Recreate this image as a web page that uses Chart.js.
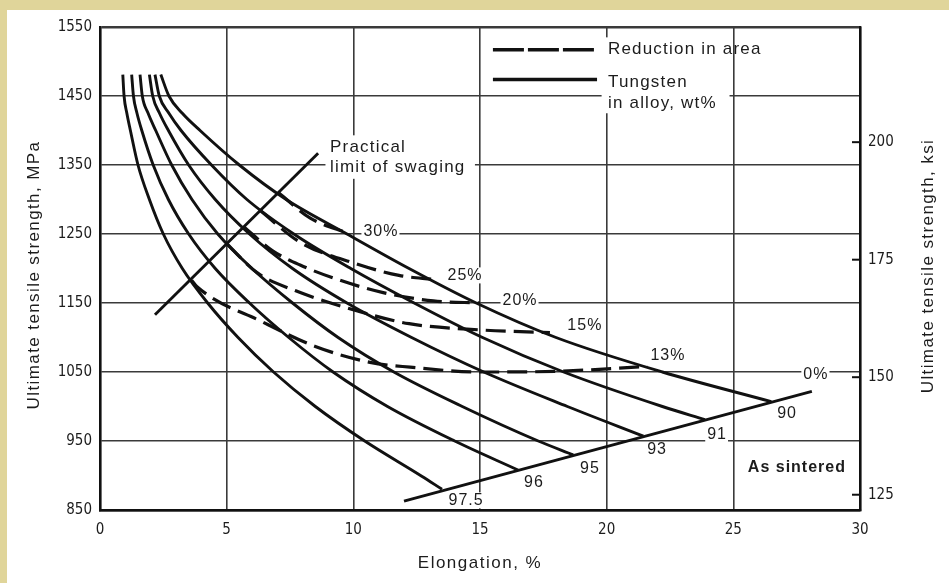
<!DOCTYPE html>
<html>
<head>
<meta charset="utf-8">
<script src="https://cdn.jsdelivr.net/npm/chart.js@4.4.1/dist/chart.umd.min.js"></script>
<style>
    html, body { margin: 0; padding: 0; background: #e0d59a; }
    body { width: 949px; height: 583px; overflow: hidden; position: relative; }
    #painel { position: absolute; left: 7px; top: 10px; width: 942px; height: 573px; background: #fff; }
</style>
</head>
<body>
<div id="painel"><canvas id="GraficoTungstenio" width="942" height="573" style="width:942px; height:573px;"></canvas></div>
<script>
// valores: [alongamento %, resistencia MPa]
var liga975 = [[0.9, 1481], [0.95, 1450], [1.06, 1425], [1.2, 1400], [1.5, 1350], [1.95, 1300], [2.5, 1250], [3.25, 1200], [4.25, 1150], [5.45, 1100], [6.85, 1050], [8.5, 1000], [10.45, 950], [12.7, 899], [13.5, 880]];
var liga96 = [[1.25, 1481], [1.32, 1450], [1.46, 1425], [1.65, 1400], [2.1, 1350], [2.7, 1300], [3.5, 1250], [4.55, 1200], [5.9, 1150], [7.45, 1100], [9.2, 1050], [11.35, 1000], [14.0, 950], [16.5, 908]];
var liga95 = [[1.58, 1481], [1.67, 1450], [1.9, 1425], [2.2, 1400], [2.83, 1350], [3.63, 1300], [4.65, 1250], [6.0, 1200], [7.6, 1150], [9.4, 1100], [11.6, 1050], [14.3, 1000], [17.3, 950], [18.68, 930]];
var liga93 = [[1.95, 1481], [2.08, 1450], [2.35, 1425], [2.7, 1400], [3.5, 1350], [4.55, 1300], [5.9, 1250], [7.6, 1200], [9.75, 1150], [12.3, 1100], [15.15, 1050], [18.45, 1000], [21.45, 957]];
var liga91 = [[2.17, 1481], [2.34, 1450], [2.72, 1425], [3.2, 1400], [4.4, 1350], [5.8, 1300], [7.65, 1250], [9.9, 1200], [12.4, 1150], [15.1, 1100], [18.3, 1050], [22.2, 1000], [23.88, 981]];
var liga90 = [[2.4, 1481], [2.72, 1450], [3.25, 1425], [3.95, 1400], [5.5, 1350], [7.35, 1300], [9.75, 1250], [12.2, 1200], [14.85, 1150], [18.0, 1100], [22.2, 1050], [26.5, 1007]];

// reducao de area (tracejado)
var reducao30 = [[7.04, 1310], [8.3, 1273], [9.87, 1250]];
var reducao25 = [[6.32, 1284], [7.9, 1238], [10.1, 1207], [11.8, 1190], [13.2, 1184]];
var reducao20 = [[5.66, 1261], [6.8, 1226], [7.9, 1205], [9.47, 1183], [11.18, 1165], [13.16, 1153], [15, 1150]];
var reducao15 = [[5, 1236], [6.2, 1194], [7.7, 1168], [10.4, 1136], [12.2, 1120], [15, 1111], [17.76, 1107]];
var reducao13 = [[3.62, 1183], [3.82, 1174], [6.45, 1122], [8.5, 1087], [10.66, 1064], [12.24, 1057], [15, 1050], [18, 1051], [21.6, 1058]];

var limiteForjamento = [[2.17, 1133], [8.61, 1367]];
var comoSinterizado = [[12, 863], [28.1, 1022]];

var rotulosReducao = ['30%', '25%', '20%', '15%', '13%', '0%'];
var posRotulosReducao = [[11.09, 1253], [14.41, 1190], [16.58, 1154], [19.14, 1117], [22.42, 1074], [28.26, 1046]];
var rotulosLiga = ['90', '91', '93', '95', '96', '97.5'];
var posRotulosLiga = [[27.12, 989], [24.36, 960], [21.99, 937], [19.34, 910], [17.13, 890], [14.45, 864]];
var ticksKsi = [125, 150, 175, 200];

var corTexto = '#1c1c1c';
var fonteTexto = "'Liberation Sans', Arial, sans-serif";
var fonteTicks = "'Liberation Sans Narrow', 'Arial Narrow', 'DejaVu Sans Condensed', sans-serif";

function PegarPontos(lista) {
    return lista.map(function (p) { return { x: p[0], y: p[1] }; });
}

function Curva(lista, tracejado) {
    return {
        data: PegarPontos(lista),
        showLine: true,
        borderColor: '#111',
        borderWidth: tracejado ? 3.2 : 2.9,
        borderDash: tracejado ? [20, 8] : [],
        cubicInterpolationMode: 'monotone',
        pointRadius: 0
    };
}

function Reta(lista) {
    return { data: PegarPontos(lista), showLine: true, borderColor: '#111', borderWidth: 2.9, pointRadius: 0 };
}

function EscreverTexto(ctx, texto, px, py, fonte, alinhamento, fundo, espaco) {
    ctx.font = fonte;
    ctx.letterSpacing = (espaco || 1) + 'px';
    ctx.textAlign = alinhamento;
    ctx.textBaseline = 'middle';
    var larg = ctx.measureText(texto).width;
    if (fundo) {
        var x0 = alinhamento === 'left' ? px : px - larg / 2;
        ctx.fillStyle = '#fff';
        ctx.fillRect(x0 - 2, py - 8, larg + 3, 16);
    }
    ctx.fillStyle = corTexto;
    ctx.fillText(texto, px, py);
}

var pluginTextos = {
    id: 'textos',
    afterDraw: function (chart) {
        var ctx = chart.ctx;
        var sx = chart.scales.x, sy = chart.scales.y, sy2 = chart.scales.y2;
        var area = chart.chartArea;
        function X(v) { return sx.getPixelForValue(v); }
        function Y(v) { return sy.getPixelForValue(v); }
        ctx.save();

        // marcas do eixo ksi para dentro
        ctx.strokeStyle = '#111';
        ctx.lineWidth = 2;
        ticksKsi.forEach(function (v) {
            var py = sy2.getPixelForValue(v);
            ctx.beginPath();
            ctx.moveTo(area.right - 8, py);
            ctx.lineTo(area.right, py);
            ctx.stroke();
        });

        // legenda
        ctx.fillStyle = '#fff';
        ctx.fillRect(X(19.8), Y(1535), X(24.85) - X(19.8), Y(1425) - Y(1535));
        ctx.lineWidth = 3.4;
        ctx.setLineDash([31, 4]);
        ctx.beginPath(); ctx.moveTo(X(15.51), Y(1517)); ctx.lineTo(X(19.62), Y(1517)); ctx.stroke();
        ctx.setLineDash([]);
        ctx.beginPath(); ctx.moveTo(X(15.51), Y(1474)); ctx.lineTo(X(19.62), Y(1474)); ctx.stroke();
        EscreverTexto(ctx, 'Reduction in area', X(20.05), Y(1517), '17px ' + fonteTexto, 'left', false, 1.2);
        EscreverTexto(ctx, 'Tungsten', X(20.05), Y(1470), '17px ' + fonteTexto, 'left', false, 1.2);
        EscreverTexto(ctx, 'in alloy, wt%', X(20.05), Y(1439), '17px ' + fonteTexto, 'left', false, 1.2);

        // limite pratico
        ctx.fillStyle = '#fff';
        ctx.fillRect(X(8.9), Y(1393), X(14.8) - X(8.9), Y(1330) - Y(1393));
        EscreverTexto(ctx, 'Practical', X(9.08), Y(1376), '17px ' + fonteTexto, 'left', false, 1.2);
        EscreverTexto(ctx, 'limit of swaging', X(9.08), Y(1346), '17px ' + fonteTexto, 'left', false, 1.2);

        rotulosReducao.forEach(function (t, i) {
            EscreverTexto(ctx, t, X(posRotulosReducao[i][0]), Y(posRotulosReducao[i][1]), '16px ' + fonteTexto, 'center', true, 1);
        });
        rotulosLiga.forEach(function (t, i) {
            EscreverTexto(ctx, t, X(posRotulosLiga[i][0]), Y(posRotulosLiga[i][1]), '16px ' + fonteTexto, 'center', true, 1);
        });
        EscreverTexto(ctx, 'As sintered', X(27.51), Y(911), 'bold 16px ' + fonteTexto, 'center', false, 1);

        // titulos dos eixos
        EscreverTexto(ctx, 'Elongation, %', (area.left + area.right) / 2, 553, '17px ' + fonteTexto, 'center', false, 1.5);
        ctx.save();
        ctx.translate(27, 265);
        ctx.rotate(-Math.PI / 2);
        EscreverTexto(ctx, 'Ultimate tensile strength, MPa', 0, 0, '17px ' + fonteTexto, 'center', false, 1.4);
        ctx.restore();
        ctx.save();
        ctx.translate(921, 256);
        ctx.rotate(-Math.PI / 2);
        EscreverTexto(ctx, 'Ultimate tensile strength, ksi', 0, 0, '17px ' + fonteTexto, 'center', false, 1.4);
        ctx.restore();

        ctx.restore();
    }
};

function LarguraGrade(c) {
    if (c.tick && (c.index === 0 || c.tick.value === 30 || c.tick.value === 1550)) return 2.4;
    return 1.6;
}

function SemSeparador(v) { return String(v); }

var ctx = document.getElementById('GraficoTungstenio').getContext('2d');

var grafico = new Chart(ctx, {
    type: 'scatter',
    data: {
        datasets: [
            Curva(liga975, false), Curva(liga96, false), Curva(liga95, false),
            Curva(liga93, false), Curva(liga91, false), Curva(liga90, false),
            Curva(reducao30, true), Curva(reducao25, true), Curva(reducao20, true),
            Curva(reducao15, true), Curva(reducao13, true),
            Reta(limiteForjamento), Reta(comoSinterizado)
        ]
    },
    options: {
        responsive: false,
        animation: false,
        layout: { padding: { top: 10, left: 0, right: 0, bottom: 0 } },
        plugins: { legend: { display: false }, tooltip: { enabled: false } },
        scales: {
            x: {
                type: 'linear', min: 0, max: 30,
                ticks: { stepSize: 5, padding: 11, color: corTexto, font: { family: fonteTicks, size: 15 }, callback: SemSeparador },
                grid: { color: '#3a3a3a', lineWidth: LarguraGrade, drawTicks: false },
                border: { color: '#111', width: 2.4 },
                afterFit: function (s) { s.height = 73; }
            },
            y: {
                type: 'linear', min: 850, max: 1550,
                ticks: { stepSize: 100, padding: 8, color: corTexto, font: { family: fonteTicks, size: 15 }, callback: SemSeparador },
                grid: { color: '#3a3a3a', lineWidth: LarguraGrade, drawTicks: false },
                border: { color: '#111', width: 2.4 },
                afterFit: function (s) { s.width = 93; }
            },
            y2: {
                type: 'linear', position: 'right', min: 121.75, max: 224.5,
                afterBuildTicks: function (s) { s.ticks = ticksKsi.map(function (v) { return { value: v }; }); },
                ticks: { padding: 8, color: corTexto, font: { family: fonteTicks, size: 15 } },
                grid: { drawOnChartArea: false, drawTicks: false },
                border: { color: '#111', width: 2.4 },
                afterFit: function (s) { s.width = 89; }
            }
        }
    },
    plugins: [pluginTextos]
});
</script>
</body>
</html>
